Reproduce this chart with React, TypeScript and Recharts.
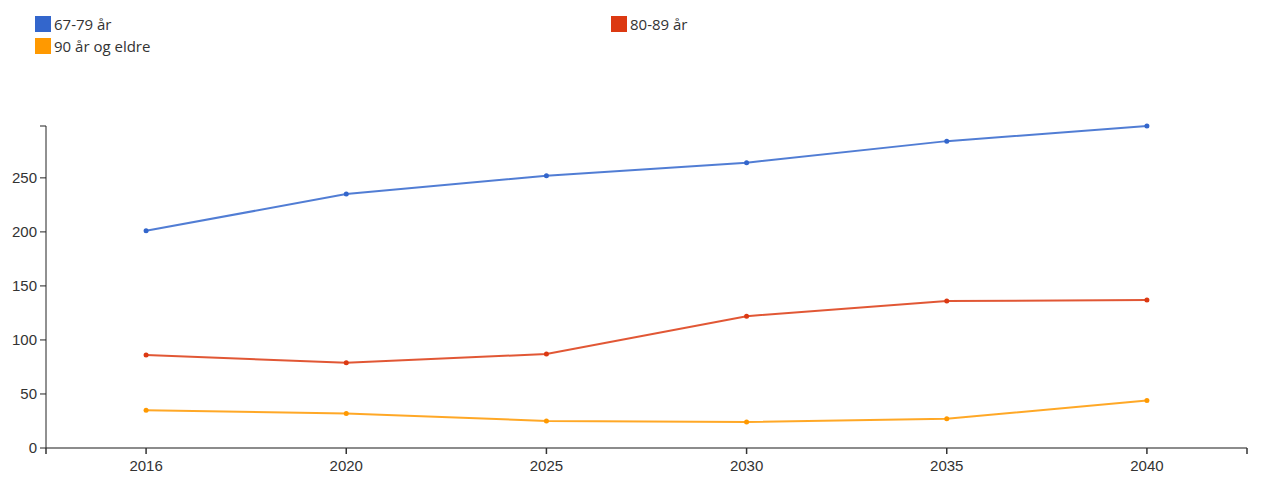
import React from 'react';
import { LineChart, Line, XAxis, YAxis } from 'recharts';

const years = ['2016', '2020', '2025', '2030', '2035', '2040'];
const age67to79 = [201, 235, 252, 264, 284, 298];
const age80to89 = [86, 79, 87, 122, 136, 137];
const age90plus = [35, 32, 25, 24, 27, 44];

const yTicks = [0, 50, 100, 150, 200, 250, 298];

const series = [
  { key: 'a', name: '67-79 år', color: '#3366cc', values: age67to79 },
  { key: 'b', name: '80-89 år', color: '#dc3912', values: age80to89 },
  { key: 'c', name: '90 år og eldre', color: '#ff9900', values: age90plus },
];

const data = years.map((year, i) => ({
  i,
  year,
  a: age67to79[i],
  b: age80to89[i],
  c: age90plus[i],
}));

const xTicks = [-0.5, ...years.map((_, i) => i), years.length - 0.5];

const FONT = '"Liberation Sans", Arial, sans-serif';

function XTick(props: any) {
  const { x, y, payload } = props;
  const v = payload.value as number;
  const label = Number.isInteger(v) ? years[v] : '';
  return (
    <text x={x} y={y + 14} textAnchor="middle" fill="#333" fontSize={15} fontFamily={FONT}>
      {label}
    </text>
  );
}

function YTick(props: any) {
  const { x, y, payload } = props;
  const v = payload.value as number;
  const label = v === 298 ? '' : String(v);
  return (
    <text x={x} y={y + 5} textAnchor="end" fill="#333" fontSize={15} fontFamily={FONT}>
      {label}
    </text>
  );
}

export default function App() {
  return (
    <div style={{ position: 'relative', width: 1245, height: 476 }}>
      <div
        style={{
          position: 'absolute',
          left: 27,
          top: 8,
          width: 1150,
          display: 'grid',
          gridTemplateColumns: '576px 576px',
          rowGap: 6,
          fontFamily: '"Open Sans", sans-serif',
          fontSize: 15,
          color: '#333',
          zIndex: 2,
        }}
      >
        {series.map((s) => (
          <div key={s.key} style={{ display: 'flex', alignItems: 'center', height: 16 }}>
            <span
              style={{
                display: 'inline-block',
                width: 16,
                height: 16,
                background: s.color,
                marginRight: 3,
              }}
            />
            <span>{s.name}</span>
          </div>
        ))}
      </div>
      <LineChart
        width={1245}
        height={476}
        data={data}
        margin={{ top: 118, right: 6, bottom: 6, left: 0 }}
      >
        <XAxis
          dataKey="i"
          type="number"
          domain={[-0.5, years.length - 0.5]}
          ticks={xTicks}
          interval={0}
          height={30}
          stroke="#666"
          strokeWidth={1.5}
          tickLine={{ stroke: '#333' }}
          tick={<XTick />}
          tickMargin={3}
        />
        <YAxis
          type="number"
          domain={[0, 298]}
          ticks={yTicks}
          interval={0}
          width={38}
          stroke="#222"
          tickLine={{ stroke: '#222' }}
          tick={<YTick />}
          tickMargin={3}
        />
        {series.map((s) => (
          <Line
            key={s.key}
            dataKey={s.key}
            name={s.name}
            type="linear"
            stroke={s.color}
            strokeOpacity={0.85}
            strokeWidth={2}
            dot={{ r: 2.5, fill: s.color, stroke: 'none' }}
            activeDot={false}
            isAnimationActive={false}
          />
        ))}
      </LineChart>
    </div>
  );
}
